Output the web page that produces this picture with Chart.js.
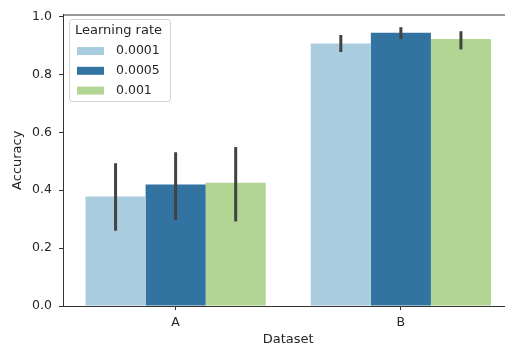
<!DOCTYPE html>
<html>
<head>
<meta charset="utf-8">
<script src="https://cdn.jsdelivr.net/npm/chart.js@4/dist/chart.umd.min.js"></script>
<style>
  html, body { margin: 0; padding: 0; background: #fff; overflow: hidden; }
</style>
</head>
<body>
<canvas id="acc-chart" width="520" height="347"></canvas>
<script>
var categories = ['A', 'B'];
var rates = ['0.0001', '0.0005', '0.001'];
var colors = ['#aaccdf', '#3273a1', '#b3d594'];
// mean accuracy per learning rate, for datasets A and B
var acc0001 = [0.378, 0.907];
var acc0005 = [0.420, 0.944];
var acc001 = [0.426, 0.922];
// error bar ends
var low0001 = [0.260, 0.877];
var high0001 = [0.493, 0.936];
var low0005 = [0.297, 0.922];
var high0005 = [0.531, 0.963];
var low001 = [0.292, 0.886];
var high001 = [0.549, 0.949];
var yTicks = [0.0, 0.2, 0.4, 0.6, 0.8, 1.0];

var means = [acc0001, acc0005, acc001];
var lows = [low0001, low0005, low001];
var highs = [high0001, high0005, high001];

var textColor = '#262626';
var axisColor = '#333333';

var errorBars = {
    id: 'errorBars',
    afterDatasetsDraw: function(chart) {
        var ctx = chart.ctx;
        var y = chart.scales.y;
        ctx.save();
        ctx.strokeStyle = '#424242';
        ctx.lineWidth = 3;
        chart.data.datasets.forEach(function(ds, i) {
            var meta = chart.getDatasetMeta(i);
            meta.data.forEach(function(bar, j) {
                ctx.beginPath();
                ctx.moveTo(bar.x, y.getPixelForValue(lows[i][j]));
                ctx.lineTo(bar.x, y.getPixelForValue(highs[i][j]));
                ctx.stroke();
            });
        });
        ctx.restore();
    }
};

var frameAndLegend = {
    id: 'frameAndLegend',
    afterDraw: function(chart) {
        var ctx = chart.ctx;
        var a = chart.chartArea;
        ctx.save();
        ctx.strokeStyle = axisColor;
        ctx.lineWidth = 1;
        ctx.beginPath();
        ctx.moveTo(a.left, a.top + 0.5);
        ctx.lineTo(a.right, a.top + 0.5);
        ctx.moveTo(a.right - 0.5, a.top);
        ctx.lineTo(a.right - 0.5, a.bottom);
        ctx.stroke();

        // legend box
        var bx = 69.5, by = 19.5, bw = 101, bh = 82;
        ctx.fillStyle = 'rgba(255,255,255,0.8)';
        ctx.strokeStyle = '#d0d0d0';
        ctx.beginPath();
        ctx.roundRect(bx, by, bw, bh, 3);
        ctx.fill();
        ctx.stroke();

        ctx.fillStyle = textColor;
        ctx.textBaseline = 'middle';
        ctx.textAlign = 'left';
        ctx.font = '13px "DejaVu Sans"';
        ctx.fillText('Learning rate', 75, 31);
        ctx.font = '12.5px "DejaVu Sans"';
        chart.data.datasets.forEach(function(ds, i) {
            var cy = 51 + i * 19.8;
            ctx.fillStyle = ds.backgroundColor;
            ctx.fillRect(77, cy - 4, 27, 8);
            ctx.fillStyle = textColor;
            ctx.fillText(ds.label, 116, cy);
        });
        ctx.restore();
    }
};

new Chart(document.getElementById('acc-chart'), {
    type: 'bar',
    data: {
        labels: categories,
        datasets: rates.map(function(r, i) {
            return {
                label: r,
                data: means[i],
                backgroundColor: colors[i],
                borderWidth: 0,
                categoryPercentage: 0.8,
                barPercentage: 1.0
            };
        })
    },
    options: {
        responsive: false,
        animation: false,
        layout: { padding: { top: 12, right: 6.5, left: 0, bottom: 0 } },
        plugins: {
            legend: { display: false },
            tooltip: { enabled: false }
        },
        scales: {
            x: {
                offset: true,
                afterFit: function(s) { s.height = 41; },
                grid: { display: true, drawOnChartArea: false, drawTicks: true, tickLength: 4, color: axisColor, offset: false },
                border: { display: true, color: axisColor, width: 1 },
                ticks: { color: textColor, font: { family: 'DejaVu Sans', size: 12.5 }, padding: 5 },
                title: { display: true, text: 'Dataset', color: textColor, font: { family: 'DejaVu Sans', size: 13 }, padding: { top: 2, bottom: 0 } }
            },
            y: {
                min: 0,
                max: 1.0068,
                afterFit: function(s) { s.width = 63; },
                afterBuildTicks: function(s) { s.ticks = yTicks.map(function(v) { return { value: v }; }); },
                grid: { display: true, drawOnChartArea: false, drawTicks: true, tickLength: 4, color: axisColor },
                border: { display: true, color: axisColor, width: 1 },
                ticks: {
                    color: textColor,
                    font: { family: 'DejaVu Sans', size: 12.5 },
                    padding: 7,
                    callback: function(v) { return Number(v).toFixed(1); }
                },
                title: { display: true, text: 'Accuracy', color: textColor, font: { family: 'DejaVu Sans', size: 13 }, padding: { top: 10, bottom: 4 } }
            }
        }
    },
    plugins: [errorBars, frameAndLegend]
});
</script>
</body>
</html>
